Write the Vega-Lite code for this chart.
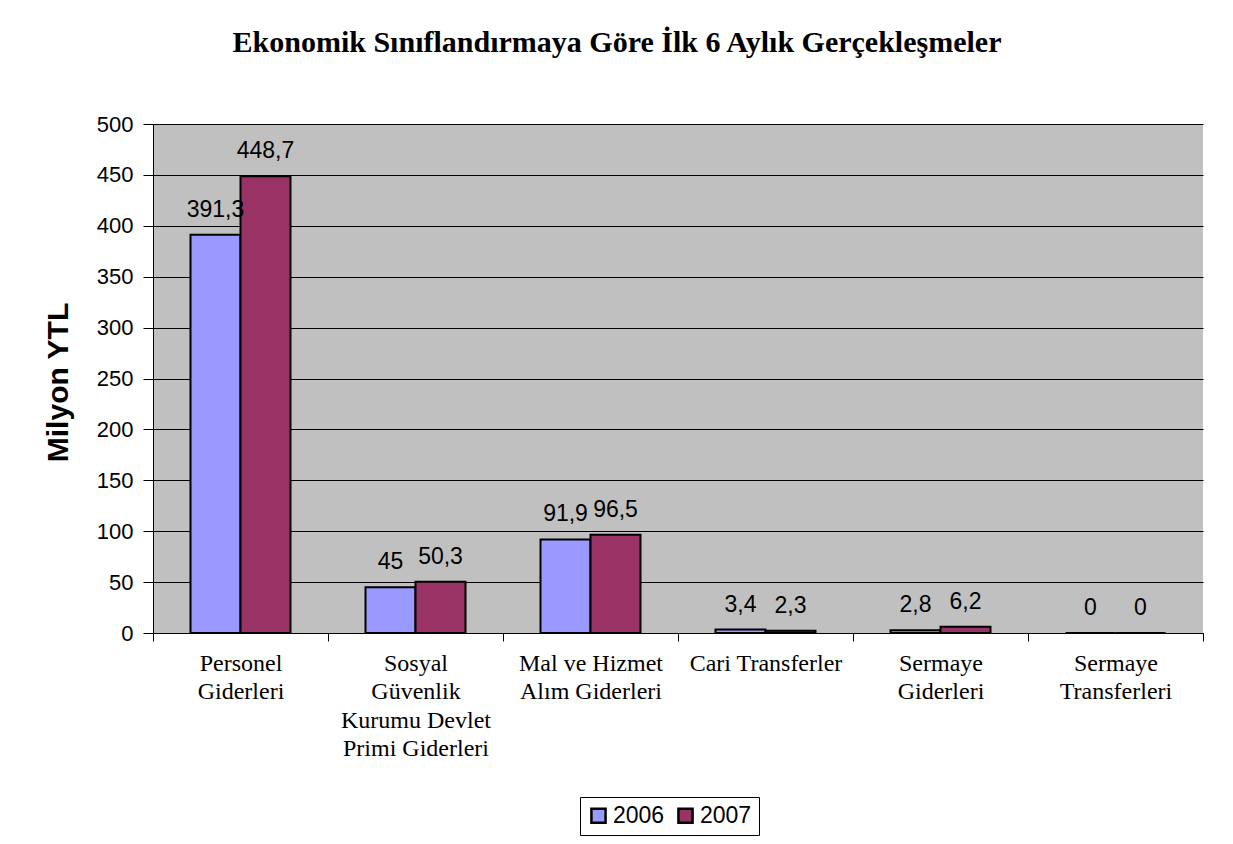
{
  "$schema": "https://vega.github.io/schema/vega-lite/v6.json",
  "autosize": "none",
  "width": 1050,
  "height": 509,
  "padding": {"left": 153, "top": 124, "right": 30, "bottom": 211},
  "background": "white",
  "title": {
    "text": "Ekonomik Sınıflandırmaya Göre İlk 6 Aylık Gerçekleşmeler",
    "font": "Liberation Serif",
    "fontSize": 30,
    "fontWeight": "bold",
    "color": "black",
    "anchor": "middle",
    "dx": -61,
    "offset": 55
  },
  "data": {
    "values": [
      {"category": "Personel\nGiderleri", "year": "2006", "value": 391.3, "label": "391,3"},
      {"category": "Personel\nGiderleri", "year": "2007", "value": 448.7, "label": "448,7"},
      {"category": "Sosyal\nGüvenlik\nKurumu Devlet\nPrimi Giderleri", "year": "2006", "value": 45, "label": "45"},
      {"category": "Sosyal\nGüvenlik\nKurumu Devlet\nPrimi Giderleri", "year": "2007", "value": 50.3, "label": "50,3"},
      {"category": "Mal ve Hizmet\nAlım Giderleri", "year": "2006", "value": 91.9, "label": "91,9"},
      {"category": "Mal ve Hizmet\nAlım Giderleri", "year": "2007", "value": 96.5, "label": "96,5"},
      {"category": "Cari Transferler", "year": "2006", "value": 3.4, "label": "3,4"},
      {"category": "Cari Transferler", "year": "2007", "value": 2.3, "label": "2,3"},
      {"category": "Sermaye\nGiderleri", "year": "2006", "value": 2.8, "label": "2,8"},
      {"category": "Sermaye\nGiderleri", "year": "2007", "value": 6.2, "label": "6,2"},
      {"category": "Sermaye\nTransferleri", "year": "2006", "value": 0, "label": "0"},
      {"category": "Sermaye\nTransferleri", "year": "2007", "value": 0, "label": "0"}
    ]
  },
  "encoding": {
    "x": {
      "field": "category",
      "type": "nominal",
      "sort": null,
      "scale": {"paddingInner": 0, "paddingOuter": 0},
      "axis": {
        "title": null,
        "labelAngle": 0,
        "labelExpr": "split(datum.label, '\\n')",
        "labelFont": "Liberation Serif",
        "labelFontSize": 24,
        "labelLineHeight": 28.5,
        "labelColor": "black",
        "labelBaseline": "top",
        "labelPadding": 10,
        "labelLimit": 0,
        "tickBand": "extent",
        "tickSize": 8,
        "tickColor": "black",
        "domainColor": "black",
        "grid": false
      }
    },
    "xOffset": {"field": "year", "type": "nominal", "scale": {"paddingInner": 0, "paddingOuter": 0.75}},
    "y": {
      "field": "value",
      "type": "quantitative",
      "scale": {"domain": [0, 500], "nice": false},
      "axis": {
        "title": "Milyon YTL",
        "titleFont": "Liberation Sans",
        "titleFontSize": 30,
        "titleFontWeight": "bold",
        "titleColor": "black",
        "titleX": -95,
        "titleY": 258,
        "titleAngle": -90,
        "titleAlign": "center",
        "titleBaseline": "middle",
        "values": [0, 50, 100, 150, 200, 250, 300, 350, 400, 450, 500],
        "labelFont": "Liberation Sans",
        "labelFontSize": 22,
        "labelColor": "black",
        "labelPadding": 10,
        "tickSize": 10,
        "tickColor": "black",
        "domainColor": "black",
        "grid": true,
        "gridColor": "black",
        "gridWidth": 1
      }
    }
  },
  "layer": [
    {
      "mark": {"type": "bar", "stroke": "black", "strokeWidth": 2},
      "encoding": {
        "color": {
          "field": "year",
          "type": "nominal",
          "scale": {"domain": ["2006", "2007"], "range": ["#9999FF", "#993366"]},
          "legend": {
            "title": null,
            "orient": "none",
            "legendX": 427,
            "legendY": 673,
            "direction": "horizontal",
            "symbolType": "square",
            "symbolSize": 200,
            "symbolStrokeColor": "black",
            "symbolStrokeWidth": 2.5,
            "labelFont": "Liberation Sans",
            "labelFontSize": 23,
            "labelColor": "black",
            "labelOffset": 3,
            "columnPadding": 8,
            "strokeColor": "black",
            "fillColor": "white",
            "padding": 7
          }
        }
      }
    },
    {
      "mark": {"type": "text", "baseline": "alphabetic", "dy": -18, "font": "Liberation Sans", "fontSize": 23, "color": "black"},
      "encoding": {"text": {"field": "label"}}
    }
  ],
  "config": {
    "view": {"fill": "#C0C0C0", "stroke": null},
    "axis": {"domainWidth": 1, "tickWidth": 1}
  }
}
